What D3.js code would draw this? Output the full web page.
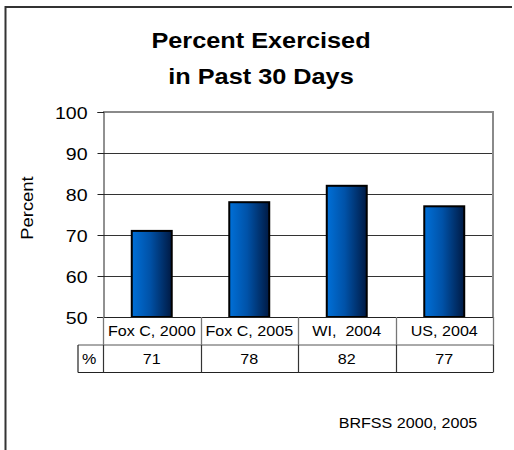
<!DOCTYPE html>
<html>
<head>
<meta charset="utf-8">
<script src="https://cdn.jsdelivr.net/npm/d3@7"></script>
<style>
  html, body { margin: 0; padding: 0; background: #fff; }
  svg { display: block; }
  text { font-family: "Liberation Sans", Arial, sans-serif; fill: #000; }
</style>
</head>
<body>
<script>
const titleLines = ["Percent Exercised", "in Past 30 Days"];
const categories = ["Fox C, 2000", "Fox C, 2005", "WI,  2004", "US, 2004"];
const values = [71, 78, 82, 77];
const yTicks = [50, 60, 70, 80, 90, 100];
const yLabel = "Percent";
const rowLabel = "%";
const sourceNote = "BRFSS 2000, 2005";

const W = 514, H = 450, SX = 1.15;
const svg = d3.select("body").append("svg").attr("width", W).attr("height", H);

const plot = { left: 103, right: 493, top: 112, bottom: 317 };
const x = d3.scaleBand().domain(categories).range([plot.left, plot.right]).padding(0);
const y = d3.scaleLinear().domain([50, 100]).range([plot.bottom, plot.top]);

// gradient
const defs = svg.append("defs");
const grad = defs.append("linearGradient").attr("id", "barGrad")
  .attr("x1", "0%").attr("x2", "100%").attr("y1", "0%").attr("y2", "0%");
grad.append("stop").attr("offset", "0%").attr("stop-color", "#0070d8");
grad.append("stop").attr("offset", "45%").attr("stop-color", "#0052a8");
grad.append("stop").attr("offset", "100%").attr("stop-color", "#001a44");

// outer frame (left + top)
svg.append("line").attr("x1", 5.5).attr("x2", 5.5).attr("y1", 6).attr("y2", H)
  .attr("stroke", "#333").attr("stroke-width", 2);
svg.append("line").attr("x1", 5).attr("x2", 512).attr("y1", 7).attr("y2", 7)
  .attr("stroke", "#333").attr("stroke-width", 2);

// stretched text helper
function stext(g, tx, ty, str, size, anchor, weight, rot) {
  return g.append("text")
    .attr("transform", `translate(${tx},${ty})` + (rot ? ` rotate(${rot})` : "") + ` scale(${SX},1)`)
    .attr("text-anchor", anchor)
    .attr("font-size", size)
    .attr("font-weight", weight || "normal")
    .style("white-space", "pre")
    .text(str);
}

// title
stext(svg, 261, 48, titleLines[0], 22, "middle", "bold");
stext(svg, 261, 84, titleLines[1], 22, "middle", "bold");

// gridlines
svg.append("g").selectAll("line").data(yTicks.filter(t => t > 50 && t < 100)).join("line")
  .attr("x1", plot.left).attr("x2", plot.right)
  .attr("y1", d => Math.round(y(d)) + 0.5).attr("y2", d => Math.round(y(d)) + 0.5)
  .attr("stroke", "#333").attr("stroke-width", 1);

// plot top & right border (gray)
svg.append("path")
  .attr("d", `M${plot.left},${y(100)}H${plot.right}V${y(50)}`)
  .attr("fill", "none").attr("stroke", "#8a8a8a").attr("stroke-width", 2);

// y axis
const yAxis = d3.axisLeft(y).tickValues(yTicks).tickSize(6).tickPadding(4).tickFormat(d3.format("d"));
const ya = svg.append("g").attr("transform", `translate(${plot.left + 0.5},0)`).call(yAxis);
ya.select(".domain").attr("stroke", "#222");
ya.selectAll(".tick line").attr("stroke", "#222");
ya.selectAll(".tick text").remove();
ya.selectAll(".tick").each(function(d) {
  stext(d3.select(this), -16, 6, String(d), 17, "end");
});

// y label
stext(svg, 33, 208, yLabel, 16, "middle", "normal", -90);

// bars
const bw = x.bandwidth() * 0.41;
svg.append("g").selectAll("rect").data(values).join("rect")
  .attr("x", (d, i) => x(categories[i]) + x.bandwidth() / 2 - bw / 2)
  .attr("y", d => y(d))
  .attr("width", bw)
  .attr("height", d => y(50) - y(d))
  .attr("fill", "url(#barGrad)")
  .attr("stroke", "#000").attr("stroke-width", 2);

// x axis baseline
svg.append("line").attr("x1", plot.left - 6).attr("x2", plot.right)
  .attr("y1", plot.bottom + 0.5).attr("y2", plot.bottom + 0.5)
  .attr("stroke", "#222").attr("stroke-width", 1);

// data table
const row1 = plot.bottom, row2 = 345, row3 = 372.5, tableLeft = 78;
const tg = svg.append("g");
// horizontal lines
tg.append("line").attr("x1", tableLeft).attr("x2", plot.right).attr("y1", row2).attr("y2", row2)
  .attr("stroke", "#555").attr("stroke-width", 1);
tg.append("line").attr("x1", tableLeft).attr("x2", plot.right).attr("y1", row3).attr("y2", row3)
  .attr("stroke", "#222").attr("stroke-width", 1.2);
// left of % cell
tg.append("line").attr("x1", tableLeft).attr("x2", tableLeft).attr("y1", row2).attr("y2", row3)
  .attr("stroke", "#222").attr("stroke-width", 1.2);
// vertical separators
const seps = categories.map(c => x(c)).concat([plot.right]);
tg.selectAll("line.sep").data(seps).join("line").attr("class", "sep")
  .attr("x1", d => Math.round(d) + 0.5).attr("x2", d => Math.round(d) + 0.5)
  .attr("y1", row1).attr("y2", row2)
  .attr("stroke", "#777").attr("stroke-width", 1.3);
tg.selectAll("line.sep2").data(seps).join("line").attr("class", "sep2")
  .attr("x1", d => Math.round(d) + 0.5).attr("x2", d => Math.round(d) + 0.5)
  .attr("y1", row2).attr("y2", row3)
  .attr("stroke", "#333").attr("stroke-width", 1.2);

categories.forEach((c, i) => {
  const cx = x(c) + x.bandwidth() / 2;
  stext(tg, cx, 335.5, c, 14, "middle");
  stext(tg, cx, 363.5, String(values[i]), 14, "middle");
});
stext(tg, 82, 363.5, rowLabel, 14, "start");

// source note
stext(svg, 408, 428, sourceNote, 14, "middle");
</script>
</body>
</html>
